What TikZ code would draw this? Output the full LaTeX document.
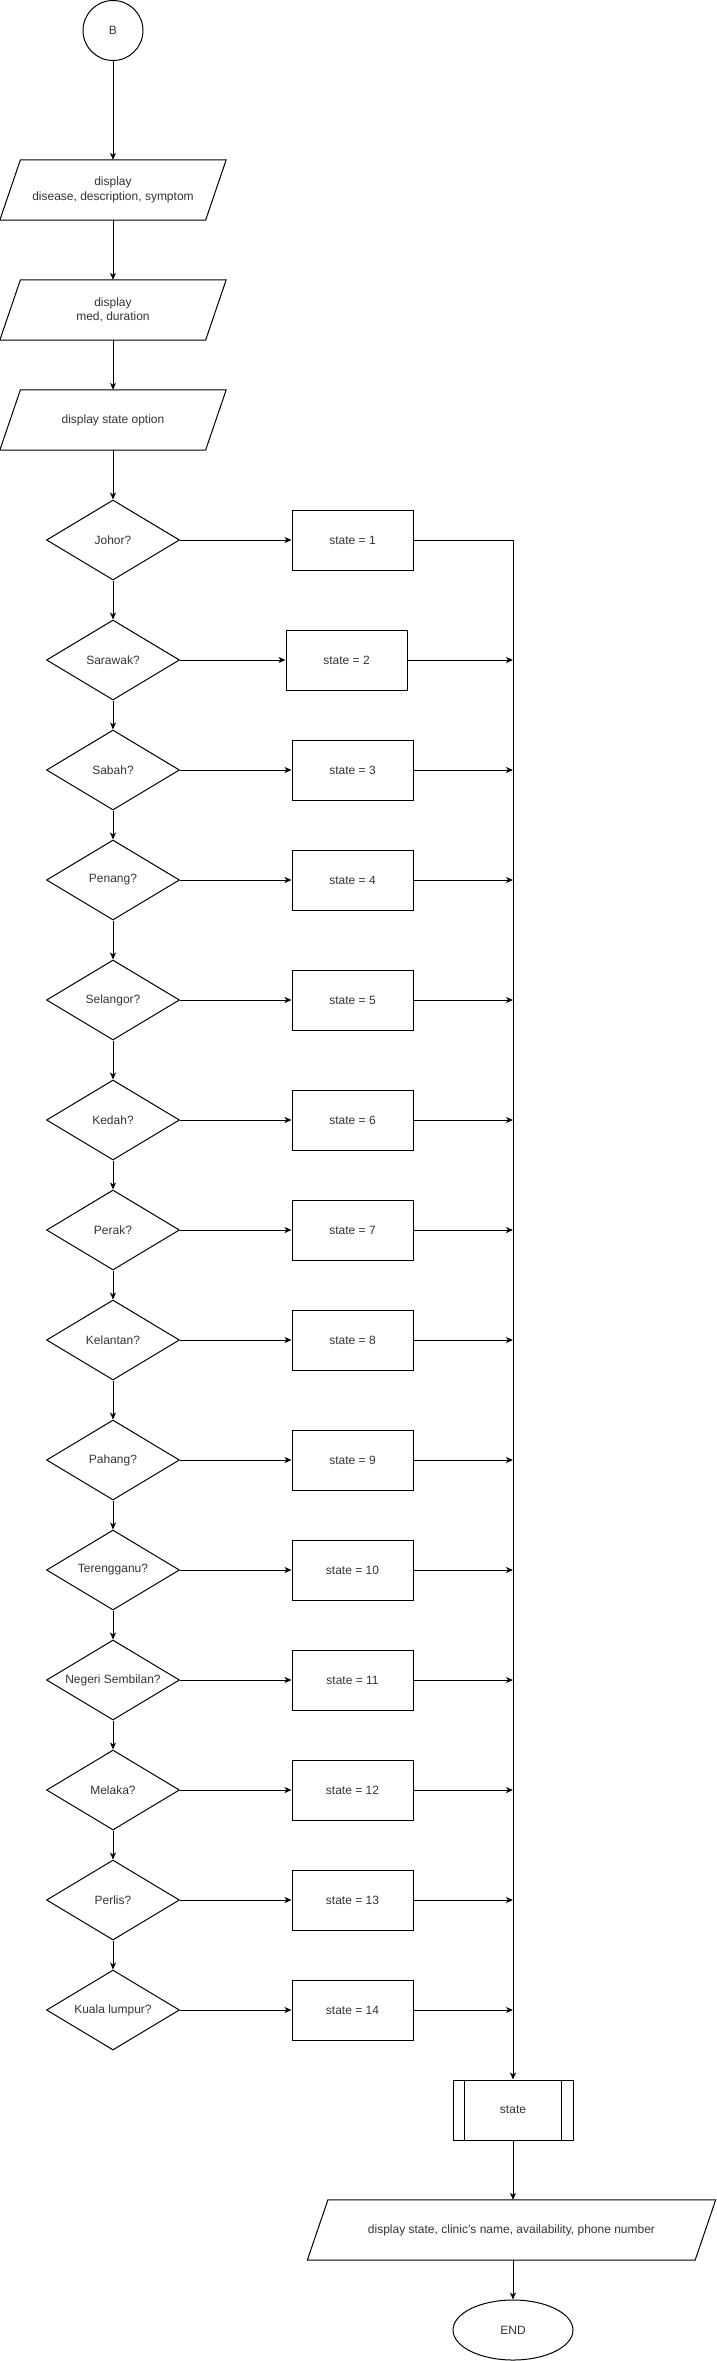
\documentclass[tikz,border=0pt]{standalone}
\usepackage{fontspec}
\setmainfont{Liberation Sans}
\usetikzlibrary{shapes.geometric,arrows.meta,calc}
\tikzset{
  every node/.style={font=\fontsize{12}{14.4}\selectfont, text=black!80},
  line/.style={draw=black, line width=1pt},
  arr/.style={line, -{Stealth[length=7pt,width=6pt,inset=2pt]}},
  decision/.style={diamond, draw, line width=1pt, minimum width=133pt, minimum height=80pt, inner sep=0pt, aspect=1.66},
  procbox/.style={rectangle, draw, line width=1pt, minimum width=121pt, minimum height=60pt, inner sep=0pt},
  iotext/.style={rectangle, minimum height=60pt, inner sep=0pt, align=center},
  termcircle/.style={circle, draw, line width=1pt, minimum size=60pt, inner sep=0pt},
  termellipse/.style={ellipse, draw, line width=1pt, minimum width=120pt, minimum height=60pt, inner sep=0pt},
}
\newcommand\iobox[4]{%
  \node[iotext, minimum width=#3] (#1) at (#2) {#4};
  \draw[line] (#1.south west) -- ($(#1.north west)+(20.6,0)$) -- (#1.north east) -- ($(#1.south east)+(-20.6,0)$) -- cycle;
}
\begin{document}
\begin{tikzpicture}[x=1pt,y=-1pt]
\useasboundingbox (0,0) rectangle (717,2361);

\node[termcircle] (B) at (113,30.5) {B};
\iobox{p1}{113,190}{226pt}{display\\disease, description, symptom}
\iobox{p2}{113,310}{226pt}{display\\med, duration}
\iobox{p3}{113,420}{226pt}{display state option}

\draw[arr] (B) -- (p1.north);
\draw[arr] (p1.south) -- (p2.north);
\draw[arr] (p2.south) -- (p3.north);

% decisions
\node[decision] (d1) at (113,540) {Johor?};
\node[decision] (d2) at (113,660) {Sarawak?};
\node[decision] (d3) at (113,770) {Sabah?};
\node[decision] (d4) at (113,880) {Penang?};
\node[decision] (d5) at (113,1000) {Selangor?};
\node[decision] (d6) at (113,1120) {Kedah?};
\node[decision] (d7) at (113,1230) {Perak?};
\node[decision] (d8) at (113,1340) {Kelantan?};
\node[decision] (d9) at (113,1460) {Pahang?};
\node[decision] (d10) at (113,1570) {Terengganu?};
\node[decision] (d11) at (113,1680) {Negeri Sembilan?};
\node[decision] (d12) at (113,1790) {Melaka?};
\node[decision] (d13) at (113,1900) {Perlis?};
\node[decision] (d14) at (113,2010) {Kuala lumpur?};

\draw[arr] (p3.south) -- (d1.north);

% boxes
\node[procbox] (s1) at (352.5,540) {state = 1};
\node[procbox] (s2) at (346.5,660) {state = 2};
\node[procbox] (s3) at (352.5,770) {state = 3};
\node[procbox] (s4) at (352.5,880) {state = 4};
\node[procbox] (s5) at (352.5,1000) {state = 5};
\node[procbox] (s6) at (352.5,1120) {state = 6};
\node[procbox] (s7) at (352.5,1230) {state = 7};
\node[procbox] (s8) at (352.5,1340) {state = 8};
\node[procbox] (s9) at (352.5,1460) {state = 9};
\node[procbox] (s10) at (352.5,1570) {state = 10};
\node[procbox] (s11) at (352.5,1680) {state = 11};
\node[procbox] (s12) at (352.5,1790) {state = 12};
\node[procbox] (s13) at (352.5,1900) {state = 13};
\node[procbox] (s14) at (352.5,2010) {state = 14};

% subprocess
\node[procbox, minimum width=120pt] (sub) at (513,2110) {state};
\draw[line] ([xshift=12pt]sub.north west) -- ([xshift=12pt]sub.south west);
\draw[line] ([xshift=-12pt]sub.north east) -- ([xshift=-12pt]sub.south east);

\iobox{out}{511.5,2230}{408pt}{display state, clinic's name, availability, phone number}
\node[termellipse] (end) at (513,2330) {END};

% vertical chain
\foreach \i [evaluate=\i as \j using int(\i+1)] in {1,...,13} {
  \draw[arr] (d\i.south) -- (d\j.north);
}
\foreach \i in {1,...,14} {
  \draw[arr] (d\i.east) -- (s\i.west);
}
\coordinate (bus) at (513,540);
\draw[arr] (s1.east) -- (bus) -- (sub.north);
\foreach \i in {2,...,14} {
  \draw[arr] (s\i.east) -- (s\i.east -| bus);
}
\draw[arr] (sub.south) -- (sub.south |- out.north);
\draw[arr] (sub.south |- out.south) -- (end.north);
\end{tikzpicture}
\end{document}
